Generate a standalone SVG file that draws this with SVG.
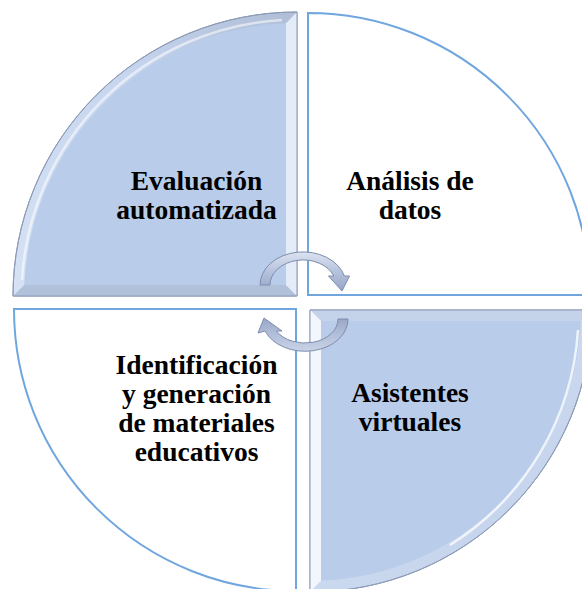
<svg xmlns="http://www.w3.org/2000/svg" width="582" height="589" viewBox="0 0 582 589">
  <defs>
    <linearGradient id="arcTL" x1="0" y1="1" x2="1" y2="0">
      <stop offset="0" stop-color="#D6E2F4"/>
      <stop offset="0.6" stop-color="#C6D5EE"/>
      <stop offset="1" stop-color="#AFBDD6"/>
    </linearGradient>
    <linearGradient id="arcBR" x1="0" y1="0" x2="1" y2="1">
      <stop offset="0" stop-color="#DCE6F6"/>
      <stop offset="0.5" stop-color="#CBD9EF"/>
      <stop offset="1" stop-color="#BFD0EA"/>
    </linearGradient>
    <linearGradient id="arrowTop" x1="0" y1="0" x2="0" y2="1">
      <stop offset="0" stop-color="#DCE3F1"/>
      <stop offset="0.5" stop-color="#B7C3DC"/>
      <stop offset="1" stop-color="#97A6C6"/>
    </linearGradient>
    <linearGradient id="arrowBot" x1="0" y1="1" x2="0" y2="0">
      <stop offset="0" stop-color="#C9D3E7"/>
      <stop offset="0.5" stop-color="#B2BFD9"/>
      <stop offset="1" stop-color="#98A7C7"/>
    </linearGradient>
  </defs>
  <style>
    .lbl { font-family: "Liberation Serif", "Times New Roman", serif; font-weight: bold; font-size: 27.5px; fill: #000; text-anchor: middle; }
    .plain { fill: #FFFFFF; stroke: #70A6DE; stroke-width: 2; }
    .edge { stroke: #8C9BB6; stroke-width: 1; }
    .inner { fill: #B9CDEA; }
    .arrow { stroke: #7E8DAE; stroke-width: 1; stroke-linejoin: round; }
  </style>
  <rect width="582" height="589" fill="#FFFFFF"/>

  <g id="node-evaluacion">
    <path class="edge" d="M297,296 L13,296 A284,284 0 0 1 297,12 Z" fill="url(#arcTL)"/>
    <polygon points="13,296 297,296 286,285 24.2,285" fill="#B2C1DA"/>
    <polygon points="297,12 297,296 286,285 286,23.2" fill="#E4ECF8"/>
    <path class="inner" d="M286,285 L24.2,285 A273,273 0 0 1 286,23.2 Z"/>
    <path d="M22,280 A276,276 0 0 1 282,20" fill="none" stroke="#FFFFFF" stroke-opacity="0.55" stroke-width="2.5"/>
    <path d="M297,296 L13,296 A284,284 0 0 1 297,12 Z" fill="none" stroke="#8C9BB6" stroke-width="1"/>
    <text class="lbl" x="196.5" y="190">Evaluación</text>
    <text class="lbl" x="196.5" y="219">automatizada</text>
  </g>

  <g id="node-analisis">
    <path class="plain" d="M308,295 L308,13 A282,282 0 0 1 590,295 Z"/>
    <text class="lbl" x="410" y="190">Análisis de</text>
    <text class="lbl" x="410" y="219">datos</text>
  </g>

  <g id="node-identificacion">
    <path class="plain" d="M296,309 L14,309 A282,282 0 0 0 296,591 Z"/>
    <text class="lbl" x="196.5" y="374">Identificación</text>
    <text class="lbl" x="196.5" y="403">y generación</text>
    <text class="lbl" x="196.5" y="432">de materiales</text>
    <text class="lbl" x="196.5" y="461">educativos</text>
  </g>

  <g id="node-asistentes">
    <path class="edge" d="M310,310 L592,310 A282,282 0 0 1 310,592 Z" fill="url(#arcBR)"/>
    <polygon points="310,310 592,310 580.8,321 321,321" fill="#C4D2EA"/>
    <polygon points="310,310 310,592 321,580.8 321,321" fill="#F3F7FD"/>
    <path class="inner" d="M321,321 L580.8,321 A271,271 0 0 1 321,580.8 Z"/>
    <path d="M578,330 A274,274 0 0 1 450,545" fill="none" stroke="#FFFFFF" stroke-opacity="0.75" stroke-width="2.5"/>
    <path d="M310,310 L592,310 A282,282 0 0 1 310,592 Z" fill="none" stroke="#8C9BB6" stroke-width="1"/>
    <text class="lbl" x="410" y="402">Asistentes</text>
    <text class="lbl" x="410" y="431">virtuales</text>
  </g>

  <g id="connectors">
    <path class="arrow" fill="url(#arrowTop)" d="M260,285 A43,33 0 0 1 344.4,276 L349.5,276 L342,291 L328.5,276 L333.8,276 A33,25 0 0 0 270,285 Z"/>
    <path class="arrow" fill="url(#arrowBot)" d="M348,319 A43,32 0 0 1 265,331 L258,333 L264,318 L282,331 L276.4,331 A33,24 0 0 0 338,319 Z"/>
  </g>
</svg>
